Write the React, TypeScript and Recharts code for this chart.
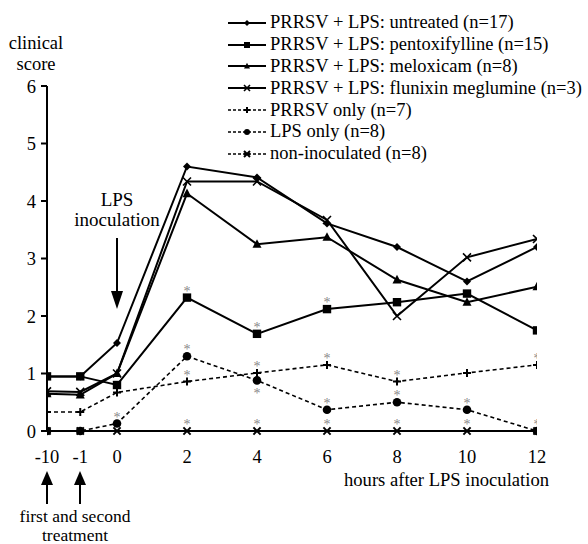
import React from "react";
import { LineChart, Line, XAxis, YAxis, Legend } from "recharts";

// x categories (hours after LPS) and where each sits on the broken axis
const hours = ["-10", "-1", "0", "2", "4", "6", "8", "10", "12"];
const hourPos = [-2, -1.05, 0, 2, 4, 6, 8, 10, 12];
const yTicks = [0, 1, 2, 3, 4, 5, 6];

const untreated = [0.95, 0.95, 1.53, 4.6, 4.41, 3.61, 3.2, 2.6, 3.2];
const pentoxifylline = [0.95, 0.95, 0.8, 2.32, 1.69, 2.12, 2.24, 2.39, 1.75];
const meloxicam = [0.65, 0.63, 1.0, 4.13, 3.25, 3.37, 2.63, 2.24, 2.51];
const flunixin = [0.69, 0.68, 1.0, 4.34, 4.34, 3.67, 2.0, 3.02, 3.34];
const prrsvOnly = [0.33, 0.33, 0.67, 0.86, 1.01, 1.15, 0.86, 1.01, 1.15];
const lpsOnly = [0, 0, 0.13, 1.3, 0.88, 0.37, 0.5, 0.37, 0];
const nonInoculated = [0, 0, 0, 0, 0, 0, 0, 0, 0];

// significance asterisks: 1 = above the point, -1 = below
const pentoxStars = [0, 0, 0, 1, 1, 1, 0, 0, 0];
const prrsvStars = [0, 0, 0, 1, 1, 1, 1, 0, 1];
const lpsStars = [0, 0, 1, 1, -1, 1, 1, 1, 0];
const nonInocStars = [0, 0, 0, 1, 1, 1, 1, 1, 1];
const noStars = [0, 0, 0, 0, 0, 0, 0, 0, 0];

const FONT = "'Liberation Serif', 'Times New Roman', serif";

type Shape = "diamond" | "square" | "triangle" | "cross" | "plus" | "circle" | "star";

const series: {
  key: string;
  name: string;
  values: number[];
  shape: Shape;
  dashed: boolean;
  stars: number[];
}[] = [
  { key: "nonInoculated", name: "non-inoculated (n=8)", values: nonInoculated, shape: "star", dashed: true, stars: nonInocStars },
  { key: "lpsOnly", name: "LPS only (n=8)", values: lpsOnly, shape: "circle", dashed: true, stars: lpsStars },
  { key: "prrsvOnly", name: "PRRSV only (n=7)", values: prrsvOnly, shape: "plus", dashed: true, stars: prrsvStars },
  { key: "flunixin", name: "PRRSV + LPS: flunixin meglumine (n=3)", values: flunixin, shape: "cross", dashed: false, stars: noStars },
  { key: "meloxicam", name: "PRRSV + LPS: meloxicam (n=8)", values: meloxicam, shape: "triangle", dashed: false, stars: noStars },
  { key: "pentoxifylline", name: "PRRSV + LPS: pentoxifylline (n=15)", values: pentoxifylline, shape: "square", dashed: false, stars: pentoxStars },
  { key: "untreated", name: "PRRSV + LPS: untreated (n=17)", values: untreated, shape: "diamond", dashed: false, stars: noStars },
];

const legendOrder = [
  "untreated",
  "pentoxifylline",
  "meloxicam",
  "flunixin",
  "prrsvOnly",
  "lpsOnly",
  "nonInoculated",
];

const data = hours.map((h, i) => {
  const row: any = { pos: hourPos[i], label: h };
  series.forEach((s) => (row[s.key] = s.values[i]));
  return row;
});

function Marker({ shape, cx, cy, s }: { shape: Shape; cx: number; cy: number; s: number }) {
  switch (shape) {
    case "diamond":
      return <polygon points={`${cx},${cy - s} ${cx + s},${cy} ${cx},${cy + s} ${cx - s},${cy}`} fill="#000" />;
    case "square":
      return <rect x={cx - s} y={cy - s} width={2 * s} height={2 * s} fill="#000" />;
    case "triangle":
      return <polygon points={`${cx},${cy - s * 1.1} ${cx + s},${cy + s * 0.8} ${cx - s},${cy + s * 0.8}`} fill="#000" />;
    case "circle":
      return <circle cx={cx} cy={cy} r={s} fill="#000" />;
    case "cross":
      return (
        <path d={`M${cx - s},${cy - s}L${cx + s},${cy + s}M${cx - s},${cy + s}L${cx + s},${cy - s}`} stroke="#000" strokeWidth={1.6} />
      );
    case "plus":
      return <path d={`M${cx - s},${cy}L${cx + s},${cy}M${cx},${cy - s}L${cx},${cy + s}`} stroke="#000" strokeWidth={2} />;
    case "star":
    default:
      return (
        <path
          d={`M${cx - s},${cy - s}L${cx + s},${cy + s}M${cx - s},${cy + s}L${cx + s},${cy - s}M${cx - s},${cy}L${cx + s},${cy}`}
          stroke="#000"
          strokeWidth={2}
        />
      );
  }
}

const sizeFor: Record<Shape, number> = {
  diamond: 4,
  square: 4.2,
  triangle: 4.5,
  circle: 4.3,
  cross: 4,
  plus: 4,
  star: 3.6,
};

const makeDot = (shape: Shape, stars: number[]) => (props: any) => {
  const { cx, cy, index } = props;
  if (cx == null || cy == null) return <g key={`d-${index}`} />;
  const st = stars[index];
  return (
    <g key={`d-${shape}-${index}`}>
      <Marker shape={shape} cx={cx} cy={cy} s={sizeFor[shape]} />
      {st !== 0 && (
        <text
          x={cx}
          y={st > 0 ? cy - 2 : cy + 18}
          textAnchor="middle"
          fontSize={14}
          fill="#888888"
          fontFamily={FONT}
        >
          *
        </text>
      )}
    </g>
  );
};

function LegendBox() {
  return (
    <div style={{ fontFamily: FONT, fontSize: 18.5, color: "#000" }}>
      {legendOrder.map((k) => {
        const s = series.find((x) => x.key === k)!;
        return (
          <div key={k} style={{ display: "flex", alignItems: "center", height: 21.8, whiteSpace: "nowrap" }}>
            <svg width={42} height={14}>
              <line
                x1={0}
                y1={7}
                x2={38}
                y2={7}
                stroke="#000"
                strokeWidth={s.dashed ? 1.3 : 2}
                strokeDasharray={s.dashed ? "3 2" : undefined}
              />
              <Marker shape={s.shape} cx={19} cy={7} s={3} />
            </svg>
            <span>{s.name}</span>
          </div>
        );
      })}
    </div>
  );
}

export default function App() {
  return (
    <div style={{ position: "absolute", left: 0, top: 0, width: 588, height: 544, background: "#fff" }}>
      <LineChart
        width={588}
        height={544}
        data={data}
        margin={{ top: 86, right: 51, bottom: 83, left: 17 }}
      >
        <XAxis
          type="number"
          dataKey="pos"
          domain={[-2, 12]}
          ticks={hourPos}
          tickFormatter={(v: number) => hours[hourPos.indexOf(v)]}
          axisLine={{ stroke: "#000", strokeWidth: 2 }}
          tickLine={false}
          tickSize={0}
          tickMargin={19}
          height={30}
          tick={{ fill: "#000", fontSize: 18.5, fontFamily: FONT }}
          allowDataOverflow
        />
        <YAxis
          type="number"
          domain={[0, 6]}
          ticks={yTicks}
          width={30}
          axisLine={{ stroke: "#000", strokeWidth: 2 }}
          tickLine={{ stroke: "#000", strokeWidth: 2 }}
          tickSize={6}
          tickMargin={5}
          tick={{ fill: "#000", fontSize: 18.5, fontFamily: FONT }}
        />
        <Legend
          layout="vertical"
          align="center"
          verticalAlign="middle"
          wrapperStyle={{ left: 228, top: 12, width: 360, height: 160 }}
          content={() => <LegendBox />}
        />
        {series.map((s) => (
          <Line
            key={s.key}
            type="linear"
            dataKey={s.key}
            name={s.name}
            stroke="#000"
            strokeWidth={s.dashed ? 1.6 : 2}
            strokeDasharray={s.dashed ? "4 3" : undefined}
            dot={makeDot(s.shape, s.stars)}
            activeDot={false}
            isAnimationActive={false}
          />
        ))}
      </LineChart>
      <svg
        width={588}
        height={544}
        style={{ position: "absolute", left: 0, top: 0, pointerEvents: "none" }}
        fontFamily={FONT}
        fontSize={18.5}
      >
        <text x={36} y={49} textAnchor="middle">clinical</text>
        <text x={36} y={70} textAnchor="middle">score</text>
        <text x={117} y={206} textAnchor="middle" fontSize={19}>LPS</text>
        <text x={117} y={226} textAnchor="middle" fontSize={19}>inoculation</text>
        <line x1={117} y1={238} x2={117} y2={294} stroke="#000" strokeWidth={2} />
        <polygon points="111,291 123,291 117,309" fill="#000" />
        <text x={549} y={486} textAnchor="end" fontSize={18.6}>hours after LPS inoculation</text>
        <line x1={47} y1={504} x2={47} y2={483} stroke="#000" strokeWidth={2} />
        <polygon points="41,485 53,485 47,471" fill="#000" />
        <line x1={80} y1={504} x2={80} y2={483} stroke="#000" strokeWidth={2} />
        <polygon points="74,485 86,485 80,471" fill="#000" />
        <text x={75} y={522} textAnchor="middle" fontSize={17.5}>first and second</text>
        <text x={75} y={541} textAnchor="middle" fontSize={17.5}>treatment</text>
      </svg>
    </div>
  );
}
